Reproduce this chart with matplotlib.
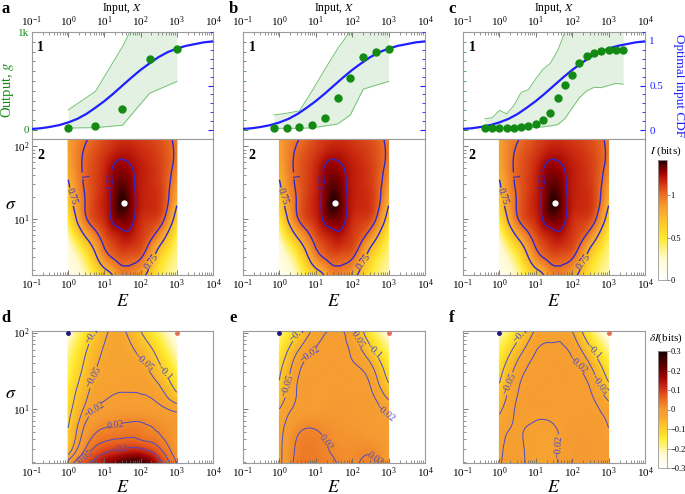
import numpy as np
import matplotlib
matplotlib.use("Agg")
import matplotlib.pyplot as plt
import matplotlib.tri as mtri
from matplotlib.colors import LinearSegmentedColormap, Normalize
from matplotlib.cm import ScalarMappable
from matplotlib.ticker import MultipleLocator, NullFormatter

plt.rcParams["font.family"] = ["Liberation Serif", "DejaVu Serif"]
plt.rcParams["mathtext.fontset"] = "stix"
plt.rcParams["contour.negative_linestyle"] = "solid"

# ---- row 1: optimal input CDF (blue), read at quarter decades
cdf_x = [0.1, 0.178, 0.316, 0.562, 1, 1.78, 3.16, 5.62, 10, 17.8, 31.6,
         56.2, 100, 178, 316, 562, 1000, 1778, 3162, 5623, 10000]
cdf_val = [0.012, 0.02, 0.035, 0.055, 0.085, 0.125, 0.18, 0.25, 0.325, 0.41, 0.5,
           0.59, 0.675, 0.75, 0.82, 0.875, 0.915, 0.945, 0.965, 0.985, 0.995]

# ---- row 1: measured output g with its spread (green)
a_x = [1, 5.6, 31.6, 178, 1000]
a_g = [20, 41, 218, 724, 826]
a_lo = [20, 24, 48, 375, 495]
a_hi = [205, 392, 850, 1400, 1400]

b_x = [0.71, 1.58, 3.55, 7.94, 17.8, 39.8, 89.1, 200, 447, 1000]
b_g = [20, 24, 27, 55, 119, 331, 526, 744, 795, 826]
b_lo = [17, 17, 17, 22, 41, 61, 154, 416, 457, 495]
b_hi = [154, 171, 195, 400, 620, 830, 1010, 1300, 1300, 1300]

c_x = [0.4, 0.63, 1.0, 1.58, 2.5, 4.0, 6.3, 10, 15.8, 25, 40, 63, 100, 158,
       251, 398, 631, 1000, 1585, 2512]
c_g = [17, 17, 17, 17, 20, 31, 44, 65, 99, 170, 327, 463, 565, 680, 755,
       789, 803, 820, 813, 820]
c_lo = [20, 20, 20, 20, 20, 22, 25, 27, 32, 42, 55, 115, 225, 330, 400, 435,
        432, 455, 475, 468]
c_hi = [115, 125, 200, 165, 250, 385, 412, 523, 620, 680, 810, 1000, 1200,
        1300, 1300, 1300, 1300, 1300, 1300, 1300]

# ---- row 2: information I(E, sigma) in bits, rows from low to high sigma
info_E = [1, 3.16, 10, 17.8, 31.6, 56.2, 100, 316, 1000]
info_sigma = [1.66, 2.82, 5.01, 8.91, 15.8, 28.2, 50.1, 89.1, 126]
info_I = [
    [0.08, 0.30, 0.60, 0.77, 0.95, 0.92, 0.82, 0.50, 0.28],
    [0.15, 0.45, 0.90, 1.00, 1.05, 1.04, 1.00, 0.62, 0.35],
    [0.25, 0.70, 1.04, 1.12, 1.18, 1.17, 1.12, 0.85, 0.42],
    [0.45, 0.96, 1.15, 1.26, 1.30, 1.27, 1.16, 1.06, 0.60],
    [0.62, 1.02, 1.19, 1.31, 1.40, 1.31, 1.20, 1.14, 0.76],
    [0.72, 1.03, 1.18, 1.29, 1.36, 1.29, 1.20, 1.13, 0.86],
    [0.80, 1.04, 1.17, 1.26, 1.29, 1.255, 1.20, 1.12, 0.94],
    [0.84, 1.02, 1.12, 1.17, 1.20, 1.19, 1.16, 1.10, 0.97],
    [0.85, 0.99, 1.09, 1.13, 1.15, 1.15, 1.13, 1.08, 0.96],
]
best_E, best_sigma = 34, 16.3

# ---- row 3: delta I in bits
dI_E = [1, 3.16, 10, 31.6, 100, 316, 1000]
dI_sigma = [1.95, 3.16, 5.62, 10, 17.8, 31.6, 56.2, 105]
d_dI = [
    [0.00, 0.08, 0.17, 0.25, 0.28, 0.13, 0.02],
    [-0.08, 0.02, 0.07, 0.09, 0.09, 0.05, 0.00],
    [-0.10, -0.01, 0.02, 0.028, 0.028, 0.015, 0.00],
    [-0.12, -0.04, -0.012, -0.006, -0.006, -0.012, -0.03],
    [-0.14, -0.06, -0.025, -0.021, -0.021, -0.04, -0.11],
    [-0.17, -0.08, -0.035, -0.03, -0.035, -0.08, -0.16],
    [-0.20, -0.10, -0.045, -0.035, -0.06, -0.12, -0.22],
    [-0.25, -0.14, -0.06, -0.045, -0.10, -0.18, -0.28],
]
e_dI = [
    [-0.03, 0.03, 0.035, 0.022, 0.015, 0.026, -0.005],
    [-0.03, 0.025, 0.03, 0.015, 0.012, 0.012, -0.01],
    [-0.035, 0.012, 0.018, 0.008, 0.003, -0.005, -0.015],
    [-0.05, -0.012, -0.005, 0.0, -0.002, -0.008, -0.03],
    [-0.09, -0.018, -0.008, -0.004, -0.006, -0.018, -0.08],
    [-0.11, -0.025, -0.012, -0.008, -0.014, -0.035, -0.13],
    [-0.15, -0.05, -0.018, -0.012, -0.024, -0.08, -0.18],
    [-0.20, -0.11, -0.035, -0.018, -0.04, -0.15, -0.25],
]
f_dI = [
    [-0.022, -0.015, -0.03, -0.024, -0.004, 0.0, -0.01],
    [-0.024, -0.016, -0.03, -0.026, -0.005, -0.002, -0.012],
    [-0.03, -0.018, -0.025, -0.022, -0.006, -0.004, -0.02],
    [-0.06, -0.016, -0.012, -0.01, -0.006, -0.01, -0.035],
    [-0.09, -0.022, -0.01, -0.007, -0.008, -0.02, -0.08],
    [-0.12, -0.035, -0.014, -0.009, -0.013, -0.04, -0.13],
    [-0.16, -0.07, -0.02, -0.014, -0.024, -0.085, -0.19],
    [-0.22, -0.13, -0.045, -0.03, -0.05, -0.16, -0.27],
]

info_cmap = LinearSegmentedColormap.from_list("info", [
    (0, "#ffffff"), (0.18, "#fffad0"), (0.35, "#ffe930"), (0.5, "#fbc02a"),
    (0.62, "#f59a30"), (0.72, "#ea6a22"), (0.82, "#cc2a10"), (0.9, "#9c0000"),
    (0.96, "#560000"), (1, "#1a0000")])
delta_cmap = LinearSegmentedColormap.from_list("delta", [
    (0, "#ffffff"), (0.12, "#fffad0"), (0.25, "#ffec30"), (0.35, "#fcc82a"),
    (0.44, "#f7a430"), (0.5, "#f59a32"), (0.6, "#e9641f"), (0.67, "#d5351a"),
    (0.76, "#a80805"), (0.87, "#600000"), (1, "#140000")])
info_norm = Normalize(0, 1.42)
delta_norm = Normalize(-0.3, 0.3)

W, H = 685, 494
fig = plt.figure(figsize=(W / 100, H / 100), dpi=100)


def px_axes(x0, y0, x1, y1):
    return fig.add_axes([x0 / W, 1 - y1 / H, (x1 - x0) / W, (y1 - y0) / H])


def style(ax):
    for s in ax.spines.values():
        s.set_color("#9a9a9a")
        s.set_linewidth(0.8)
    ax.tick_params(which="both", direction="in", colors="#666666",
                   labelcolor="black", labelsize=8, pad=2)
    ax.tick_params(which="major", length=3.5, width=0.6)
    ax.tick_params(which="minor", length=2, width=0.5)


def smooth(e_vals, s_vals, z):
    lx, ly = np.log10(e_vals), np.log10(s_vals)
    gx, gy = np.meshgrid(lx, ly)
    nx = len(lx)
    tris = []
    for j in range(len(ly) - 1):
        for i in range(nx - 1):
            p = j * nx + i
            tris += [[p, p + 1, p + nx + 1], [p, p + nx + 1, p + nx]]
    tri = mtri.Triangulation(gx.ravel(), gy.ravel(), tris)
    interp = mtri.CubicTriInterpolator(tri, np.ravel(z), kind="min_E")
    fx, fy = np.meshgrid(np.linspace(lx[0] + 1e-6, lx[-1] - 1e-6, 160),
                         np.linspace(ly[0] + 1e-6, ly[-1] - 1e-6, 160))
    return 10 ** fx, 10 ** fy, interp(fx, fy)


def draw_field(ax, e_vals, s_vals, z, cmap, norm, levels, fmt, lcolor, lw):
    ex, sy, fz = smooth(e_vals, s_vals, z)
    ax.pcolormesh(ex, sy, fz, shading="gouraud", cmap=cmap, norm=norm, rasterized=True)
    cs = ax.contour(ex, sy, fz, levels=levels, colors=lcolor, linewidths=lw)
    ax.clabel(cs, fmt=fmt, fontsize=7, inline=True, inline_spacing=1)


cols = [(32, 213), (243, 425), (463, 645)]
tops = [(a_x, a_g, a_lo, a_hi), (b_x, b_g, b_lo, b_hi), (c_x, c_g, c_lo, c_hi)]
bottoms = [d_dI, e_dI, f_dI]
green, blue = "#138a13", "#1f1fff"

for k, (x0, x1) in enumerate(cols):
    xs, gs, lo, hi = tops[k]

    # panel 1: input-output
    ax = px_axes(x0, 32, x1, 139)
    style(ax)
    ax.set_xscale("log")
    ax.set_xlim(0.1, 1e4)
    ax.set_ylim(-92, 1000)
    ax.fill_between(xs, lo, hi, color="#e2f1e2", lw=0)
    ax.plot(xs, lo, color="#74c274", lw=0.7)
    ax.plot(xs, hi, color="#74c274", lw=0.7)
    ax.tick_params(axis="x", which="both", top=True, bottom=False,
                   labeltop=True, labelbottom=False)
    ax.set_yticks([0, 1000])
    ax.yaxis.set_minor_locator(MultipleLocator(100))
    ax.tick_params(axis="y", which="both", colors=green, labelcolor=green)
    if k == 0:
        ax.set_yticklabels(["0", "1k"])
    else:
        ax.set_yticklabels([])
    ax2 = ax.twinx()
    ax2.set_xlim(0.1, 1e4)
    for s in ax2.spines.values():
        s.set_visible(False)
    ax2.plot(cdf_x, cdf_val, color=blue, lw=1.6)
    ax2.plot(xs, gs, "o", color=green, ms=5, transform=ax.transData, zorder=4)
    ax2.set_ylim(-0.101, 1.101)
    ax2.set_yticks([0, 0.5, 1])
    ax2.yaxis.set_minor_locator(MultipleLocator(0.1))
    ax2.tick_params(axis="y", which="both", direction="in", colors=blue,
                    labelcolor=blue, labelsize=8, pad=3)
    ax2.tick_params(axis="y", which="major", length=3.5)
    ax2.tick_params(axis="y", which="minor", length=2)
    if k == 2:
        ax2.set_yticklabels(["0", "0.5", "1"])
    else:
        ax2.set_yticklabels([])
    ax.text(0.03, 0.92, "1", transform=ax.transAxes, fontsize=10,
            fontweight="bold", va="top")
    fig.text((x0 + x1) / 2 / W, 1 - 8 / H, "Input, $X$", ha="center",
             va="center", fontsize=8.5)

    # panel 2: information landscape
    axh = px_axes(x0, 139, x1, 275)
    style(axh)
    axh.set_xscale("log")
    axh.set_yscale("log")
    draw_field(axh, info_E, info_sigma, info_I, info_cmap, info_norm,
               [0.75, 1.0, 1.25], {0.75: "0.75", 1.0: "1", 1.25: "1.25"},
               "#2a2ad0", 1.0)
    axh.plot([best_E], [best_sigma], "o", color="white", ms=3.5)
    axh.set_xlim(0.1, 1e4)
    axh.set_ylim(10 ** 0.226, 10 ** 2.1)
    axh.yaxis.set_minor_formatter(NullFormatter())
    if k > 0:
        axh.tick_params(labelleft=False)
    axh.text(0.03, 0.93, "2", transform=axh.transAxes, fontsize=10,
             fontweight="bold", va="top")
    fig.text((x0 + x1) / 2 / W, 1 - 301 / H, "$E$", ha="center", va="center", fontsize=13)

    # panel d/e/f: change of information
    axd = px_axes(x0, 331, x1, 463)
    style(axd)
    axd.set_xscale("log")
    axd.set_yscale("log")
    draw_field(axd, dI_E, dI_sigma, bottoms[k], delta_cmap, delta_norm,
               [-0.1, -0.05, -0.02, 0.02, 0.05, 0.1],
               {-0.1: "\u22120.1", -0.05: "\u22120.05", -0.02: "\u22120.02",
                0.02: "0.02", 0.05: "0.05", 0.1: "0.1"},
               "#4b4bc4", 0.7)
    axd.plot([1], [100], "o", color="#1a1a80", ms=2.5, clip_on=False, zorder=5)
    axd.plot([1000], [100], "o", color="#e86a5a", ms=2.5, clip_on=False, zorder=5)
    axd.set_xlim(0.1, 1e4)
    axd.set_ylim(1.95, 105)
    axd.yaxis.set_minor_formatter(NullFormatter())
    if k > 0:
        axd.tick_params(labelleft=False)
    fig.text((x0 + x1) / 2 / W, 1 - 487 / H, "$E$", ha="center", va="center", fontsize=13)

# axis labels and panel letters
fig.text(8 / W, 1 - 90 / H, "Output, $g$", rotation=90, ha="center",
         va="center", color=green, fontsize=10.5)
fig.text(679 / W, 1 - 86 / H, "Optimal input CDF", rotation=270, ha="center",
         va="center", color=blue, fontsize=9.5)
fig.text(11 / W, 1 - 204 / H, r"$\sigma$", ha="center", va="center", fontsize=13)
fig.text(11 / W, 1 - 394 / H, r"$\sigma$", ha="center", va="center", fontsize=13)
for letter, (lx, ly) in zip("abcdef", [(6, 9), (233, 9), (452, 9),
                                        (6, 318), (233, 318), (452, 318)]):
    fig.text(lx / W, 1 - ly / H, letter, ha="center", va="center",
             fontsize=12, fontweight="bold")

# colorbars
cax1 = px_axes(658, 160, 667, 280)
cb1 = fig.colorbar(ScalarMappable(info_norm, info_cmap), cax=cax1, ticks=[0, 0.5, 1])
cb1.ax.set_yticklabels(["0", "0.5", "1"])
cax2 = px_axes(658, 351, 667, 468)
cb2 = fig.colorbar(ScalarMappable(delta_norm, delta_cmap), cax=cax2,
                   ticks=[-0.3, -0.2, -0.1, 0, 0.1, 0.2, 0.3])
cb2.ax.set_yticklabels(["\u22120.3", "\u22120.2", "\u22120.1", "0", "0.1", "0.2", "0.3"])
for cb in (cb1, cb2):
    cb.outline.set_edgecolor("#9a9a9a")
    cb.outline.set_linewidth(0.6)
    cb.ax.tick_params(labelsize=6, length=2, width=0.5, colors="#666666",
                      labelcolor="black", pad=0.5)
fig.text(666 / W, 1 - 151 / H, "$I$ (bits)", ha="center", va="center", fontsize=8)
fig.text(666 / W, 1 - 338 / H, r"$\delta I$(bits)", ha="center", va="center", fontsize=8)

fig.savefig("out.png", dpi=100)
